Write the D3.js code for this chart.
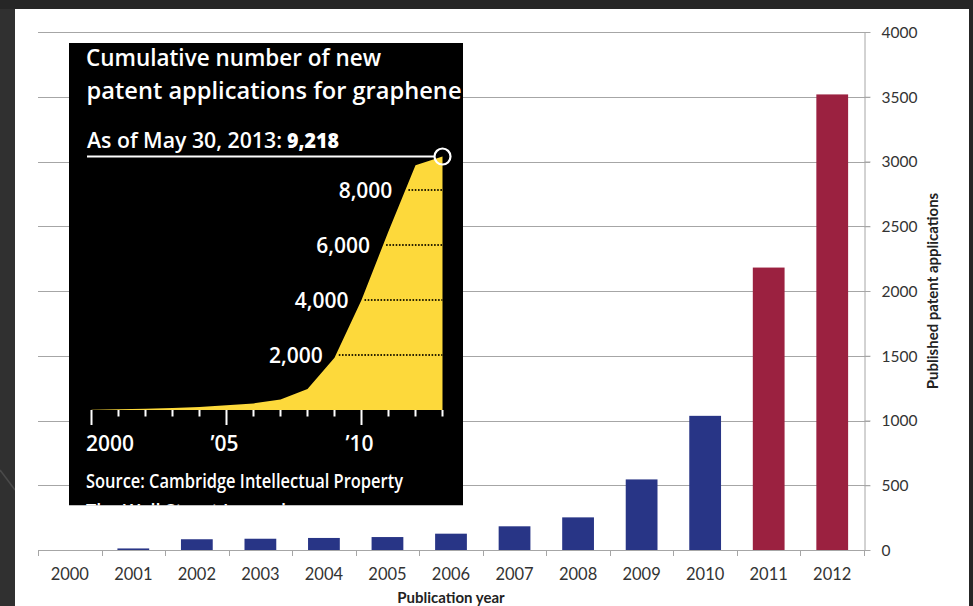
<!DOCTYPE html>
<html>
<head>
<meta charset="utf-8">
<script src="https://cdn.jsdelivr.net/npm/d3@7/dist/d3.min.js"></script>
<style>
	body { margin: 0; background: #262626; }
	svg { display: block; }
	.lbl { font-family: Lato, "Open Sans", sans-serif; fill: #333; }
	.wsj { font-family: "Open Sans", "Noto Sans", sans-serif; fill: #fff; font-weight: 600; }
</style>
</head>
<body>
<div id="chart"></div>
<script>
// main bar chart: published patent applications per year
let years = ["2000", "2001", "2002", "2003", "2004", "2005", "2006", "2007", "2008", "2009", "2010", "2011", "2012"]
let published = [0, 12, 83, 87, 93, 100, 126, 183, 252, 545, 1036, 2181, 3518]
let redYears = ["2011", "2012"]
let yTicks = [0, 500, 1000, 1500, 2000, 2500, 3000, 3500, 4000]

// inset (WSJ graphic): cumulative applications
let cumYears = [2000, 2001, 2002, 2003, 2004, 2005, 2006, 2007, 2008, 2009, 2010, 2011, 2012, 2013]
let cumTotals = [10, 30, 50, 75, 110, 170, 240, 380, 760, 1900, 4000, 6500, 8900, 9218]
let cumTicks = [2000, 4000, 6000, 8000]
let cumYearLabels = ["2000", "\u201905", "\u201910"]
let cumYearLabelAt = [2000, 2005, 2010]

let w = 973
let h = 606
let plotLeft = 38
let plotRight = 864
let plotBottom = 550
let plotTop = 32

let svg = d3.select("#chart")
	.append("svg")
	.attr("width", w)
	.attr("height", h)

// slide background + white panel
svg.append("rect").attr("x", 0).attr("y", 0).attr("width", w).attr("height", h).attr("fill", "#262626")
svg.append("rect").attr("x", 0).attr("y", 9).attr("width", 15).attr("height", h).attr("fill", "#303030")
svg.append("line").attr("x1", 0).attr("y1", 470).attr("x2", 15).attr("y2", 490)
	.attr("stroke", "#4a4a4a").attr("stroke-width", 1.5)
svg.append("rect").attr("x", 15).attr("y", 9).attr("width", 954).attr("height", h - 9).attr("fill", "#fff")

let x = d3.scaleBand()
	.domain(years)
	.range([plotLeft, plotRight])
	.paddingInner(0.5)
	.paddingOuter(0.25)

let y = d3.scaleLinear()
	.domain([0, 4000])
	.range([plotBottom, plotTop])

//gridlines
svg.append("g")
	.selectAll("line")
	.data(yTicks)
	.join("line")
	.attr("x1", plotLeft)
	.attr("x2", plotRight + 6)
	.attr("y1", d => Math.round(y(d)) + 0.5)
	.attr("y2", d => Math.round(y(d)) + 0.5)
	.attr("stroke", "#a6a6a6")

//bars
svg.append("g")
	.selectAll("rect")
	.data(years)
	.join("rect")
	.attr("x", d => x(d))
	.attr("width", x.bandwidth())
	.attr("y", (d, i) => y(published[i]))
	.attr("height", (d, i) => y(0) - y(published[i]))
	.attr("fill", d => redYears.includes(d) ? "#9b2140" : "#283586")

// right axis
let yAxis = svg.append("g")
	.attr("transform", `translate(${plotRight + 0.5},0)`)
	.call(d3.axisRight(y).tickValues(yTicks).tickFormat(d3.format("d")).tickSize(6).tickSizeOuter(0).tickPadding(11))
yAxis.select(".domain").attr("stroke", "#a6a6a6")
yAxis.selectAll(".tick line").attr("stroke", "#a6a6a6")
yAxis.selectAll("text").attr("class", "lbl").style("font-size", "15.5px").attr("dy", "0.34em")

// bottom axis: labels at band centres, ticks at band edges
let xAxis = svg.append("g")
	.attr("transform", `translate(0,${plotBottom})`)
	.call(d3.axisBottom(x).tickSize(0).tickPadding(18))
xAxis.select(".domain").remove()
xAxis.selectAll("text").attr("class", "lbl").style("font-size", "16.5px")

let edges = years.map(d => x(d) - x.step() * 0.25).concat([plotRight])
svg.append("line")
	.attr("x1", plotLeft).attr("x2", plotRight)
	.attr("y1", plotBottom + 0.5).attr("y2", plotBottom + 0.5)
	.attr("stroke", "#a6a6a6")
svg.append("g")
	.selectAll("line")
	.data(edges)
	.join("line")
	.attr("x1", d => Math.round(d) + 0.5)
	.attr("x2", d => Math.round(d) + 0.5)
	.attr("y1", plotBottom)
	.attr("y2", plotBottom + 6)
	.attr("stroke", "#a6a6a6")

svg.append("text")
	.attr("class", "lbl")
	.attr("x", 451)
	.attr("y", 603)
	.attr("text-anchor", "middle")
	.style("font-size", "15px")
	.style("font-weight", "bold")
	.style("fill", "#222")
	.text("Publication year")

svg.append("text")
	.attr("class", "lbl")
	.attr("transform", "translate(938,291) rotate(-90)")
	.attr("text-anchor", "middle")
	.style("font-size", "15px")
	.style("font-weight", "bold")
	.style("fill", "#222")
	.text("Published patent applications")

// ---- inset graphic ----
let ib = {x: 69, y: 43, w: 394, h: 462.5}

svg.append("clipPath").attr("id", "insetClip")
	.append("rect").attr("x", ib.x).attr("y", ib.y).attr("width", ib.w).attr("height", ib.h)

let inset = svg.append("g").attr("clip-path", "url(#insetClip)")
inset.append("rect").attr("x", ib.x).attr("y", ib.y).attr("width", ib.w).attr("height", ib.h).attr("fill", "#000")

let ix = d3.scaleLinear()
	.domain([2000, 2013])
	.range([91.5, 442.5])

let iy = d3.scaleLinear()
	.domain([0, 2000])
	.range([410, 355])

let cum = cumYears.map((d, i) => ({year: d, total: cumTotals[i]}))

let area = d3.area()
	.x(d => ix(d.year))
	.y0(iy(0))
	.y1(d => iy(d.total))

inset.append("path")
	.datum(cum)
	.attr("d", area)
	.attr("fill", "#fdd93b")

// where the curve crosses a level
let crossAt = v => {
	let i = cum.findIndex(d => d.total >= v)
	let a = cum[i - 1], b = cum[i]
	return ix(a.year + (v - a.total) / (b.total - a.total) * (b.year - a.year))
}

let last = cum[cum.length - 1]

inset.append("g")
	.selectAll("line")
	.data(cumTicks)
	.join("line")
	.attr("x1", d => crossAt(d) + 3)
	.attr("x2", ix(last.year))
	.attr("y1", d => iy(d))
	.attr("y2", d => iy(d))
	.attr("stroke", "#2a2200")
	.attr("stroke-width", 2)
	.attr("stroke-dasharray", "1.6,1.6")

inset.append("g")
	.selectAll("text")
	.data(cumTicks)
	.join("text")
	.attr("class", "wsj")
	.attr("x", d => crossAt(d) - 13)
	.attr("y", d => iy(d))
	.attr("dy", "0.36em")
	.attr("text-anchor", "end")
	.style("font-size", "21px")
	.text(d => d3.format(",")(d))

// year ticks
inset.append("g")
	.selectAll("line")
	.data(cumYears)
	.join("line")
	.attr("x1", d => ix(d))
	.attr("x2", d => ix(d))
	.attr("y1", iy(0))
	.attr("y2", d => cumYearLabelAt.includes(d) ? 425 : 416.5)
	.attr("stroke", "#fff")
	.attr("stroke-width", 2)

inset.append("g")
	.selectAll("text")
	.data(cumYearLabels)
	.join("text")
	.attr("class", "wsj")
	.attr("x", (d, i) => i == 0 ? 86 : ix(cumYearLabelAt[i]) - 2)
	.attr("y", 451)
	.attr("text-anchor", (d, i) => i == 0 ? "start" : "middle")
	.style("font-size", "21px")
	.text(d => d)

// total marker line + circle
inset.append("line")
	.attr("x1", 87)
	.attr("x2", ix(last.year) - 8)
	.attr("y1", iy(last.total))
	.attr("y2", iy(last.total))
	.attr("stroke", "#fff")
	.attr("stroke-width", 2)
inset.append("circle")
	.attr("cx", ix(last.year))
	.attr("cy", iy(last.total))
	.attr("r", 8)
	.attr("fill", "none")
	.attr("stroke", "#fff")
	.attr("stroke-width", 2.2)

let addText = (str, xx, yy, size, len, weight) => {
	return inset.append("text")
		.attr("class", "wsj")
		.attr("x", xx)
		.attr("y", yy)
		.attr("textLength", len)
		.attr("lengthAdjust", "spacingAndGlyphs")
		.style("font-size", size + "px")
		.style("font-weight", weight || 600)
		.text(str)
}

addText("Cumulative number of new", 86, 66, 22.5, 295)
addText("patent applications for graphene", 86.5, 98.5, 22.5, 375)
addText("As of May 30, 2013:", 87, 147.5, 21, 195)
addText("9,218", 287, 147.5, 21, 52, 800)
addText("Source: Cambridge Intellectual Property", 86, 488, 19, 317)
addText("The Wall Street Journal", 86, 518, 19, 200)
</script>
</body>
</html>
